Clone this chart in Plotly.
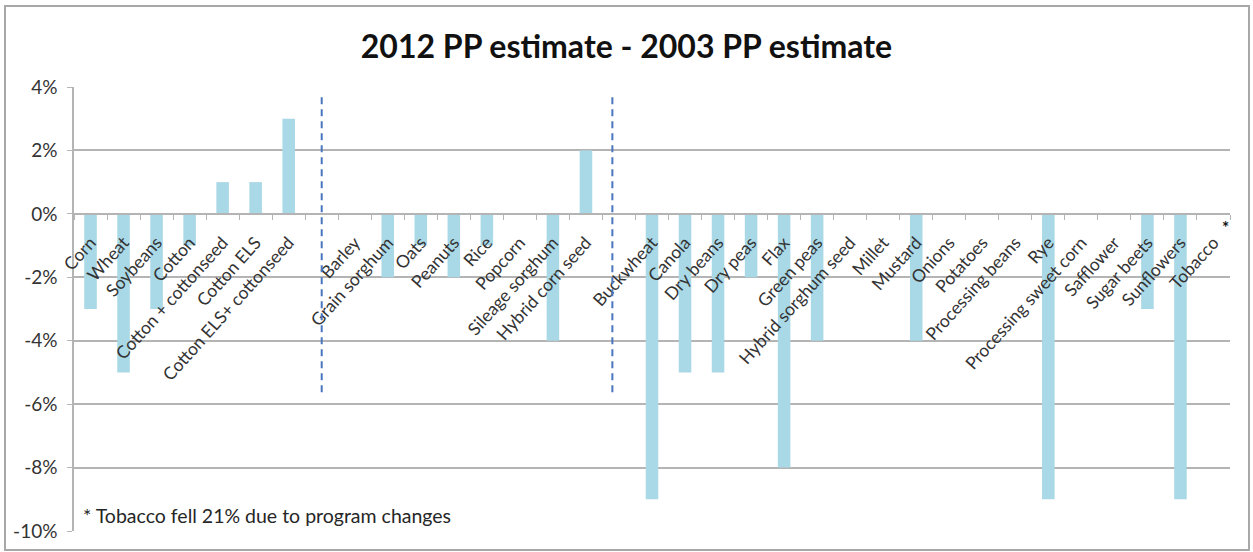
import plotly.graph_objects as go

# Crop-level change in planted-acreage estimate (percentage points)
categories = [
    "Corn", "Wheat", "Soybeans", "Cotton", "Cotton + cottonseed", "Cotton ELS",
    "Cotton ELS+ cottonseed", "",
    "Barley", "Grain sorghum", "Oats", "Peanuts", "Rice", "Popcorn",
    "Sileage sorghum", "Hybrid corn seed", "",
    "Buckwheat", "Canola", "Dry beans", "Dry peas", "Flax", "Green peas",
    "Hybrid sorghum seed", "Millet", "Mustard", "Onions", "Potatoes",
    "Processing beans", "Rye", "Processing sweet corn", "Safflower",
    "Sugar beets", "Sunflowers", "Tobacco",
]
change_pct = [
    -3, -5, -3, -1, 1, 1, 3, None,
    0, -2, -1, -2, -1, 0, -4, 2, None,
    -9, -5, -5, -2, -8, -4, 0, 0, -4, 0, 0, 0, -9, 0, 0, -3, -9, None,
]
y_ticks = [4, 2, 0, -2, -4, -6, -8, -10]
footnote = "* Tobacco fell 21% due to program changes"
title_text = "2012 PP estimate - 2003 PP estimate"

# Page / plot geometry (pixels)
W, H = 1253, 552
L, R, T, B = 74, 23, 87, 21
Y_MIN, Y_MAX = -10, 4
DIVIDERS = [7, 15.8]           # dashed group separators (category units)
DIVIDER_SPAN = (3.68, -5.72)   # vertical extent of separators (%)

FONT = "Lato"
TXT = "#333333"
GRID = "#b4b4b4"
BAR = "#a9d8e6"

x_idx = list(range(len(categories)))
plot_w = W - L - R
plot_h = H - T - B


def px_to_paper_x(px):
    return (px - L) / plot_w


def px_to_paper_y(py):
    return (H - B - py) / plot_h


fig = go.Figure(
    go.Bar(
        x=x_idx,
        y=change_pct,
        marker=dict(color=BAR, line=dict(width=0)),
        hoverinfo="skip",
    )
)

zero_pos = (0 - Y_MIN) / (Y_MAX - Y_MIN)

shapes = []
for xd in DIVIDERS:
    shapes.append(dict(
        type="line", xref="x", yref="y",
        x0=xd, x1=xd, y0=DIVIDER_SPAN[0], y1=DIVIDER_SPAN[1],
        line=dict(color="#4a76c0", width=2, dash="7px,5px"),
    ))
# outer chart frame
shapes.append(dict(
    type="rect", xref="paper", yref="paper",
    x0=px_to_paper_x(5), x1=px_to_paper_x(1249),
    y0=px_to_paper_y(550), y1=px_to_paper_y(6),
    line=dict(color="#a8a8a8", width=2), fillcolor="rgba(0,0,0,0)",
    layer="below",
))

fig.update_layout(
    width=W, height=H,
    margin=dict(l=L, r=R, t=T, b=B, autoexpand=False),
    paper_bgcolor="white", plot_bgcolor="white",
    showlegend=False,
    bargap=0.62,
    font=dict(family=FONT, color=TXT),
    title=dict(
        text=f"<b>{title_text}</b>",
        x=0.5, xref="container", xanchor="center",
        y=1 - 47 / H, yref="container", yanchor="middle",
        font=dict(family=FONT, size=32, color="#111111"),
    ),
    xaxis=dict(
        range=[-0.5, len(categories) - 0.5],
        tickmode="array", tickvals=x_idx, ticktext=categories,
        tickangle=-48,
        tickfont=dict(family=FONT, size=17.5, color=TXT),
        ticklabelstandoff=11,
        ticks="", showgrid=False, zeroline=False,
        showline=True, linecolor=GRID, linewidth=1.5,
        anchor="free", position=zero_pos,
        minor=dict(ticks="outside", ticklen=5, tickcolor=GRID,
                   tick0=-0.5, dtick=1, showgrid=False),
        automargin=False, fixedrange=True,
    ),
    yaxis=dict(
        range=[Y_MIN, Y_MAX],
        tickmode="array", tickvals=y_ticks,
        ticktext=[f"{v}%" for v in y_ticks],
        tickfont=dict(family=FONT, size=19, color=TXT),
        ticks="outside", ticklen=5, tickcolor=GRID,
        ticklabelstandoff=6,
        showgrid=True, gridcolor=GRID, gridwidth=1.5,
        zeroline=False,
        showline=True, linecolor=GRID, linewidth=1.5,
        automargin=False, fixedrange=True,
    ),
    shapes=shapes,
    annotations=[
        dict(
            text=footnote, xref="paper", yref="paper",
            x=px_to_paper_x(81), y=px_to_paper_y(515),
            xanchor="left", yanchor="middle", showarrow=False,
            font=dict(family=FONT, size=19.5, color="#262626"),
        ),
        dict(
            text="<b>*</b>", xref="x", yref="y",
            x=34.35, y=-0.42, showarrow=False,
            xanchor="center", yanchor="middle",
            font=dict(family=FONT, size=17, color="#111111"),
        ),
    ],
)

fig.write_html("out.html")
